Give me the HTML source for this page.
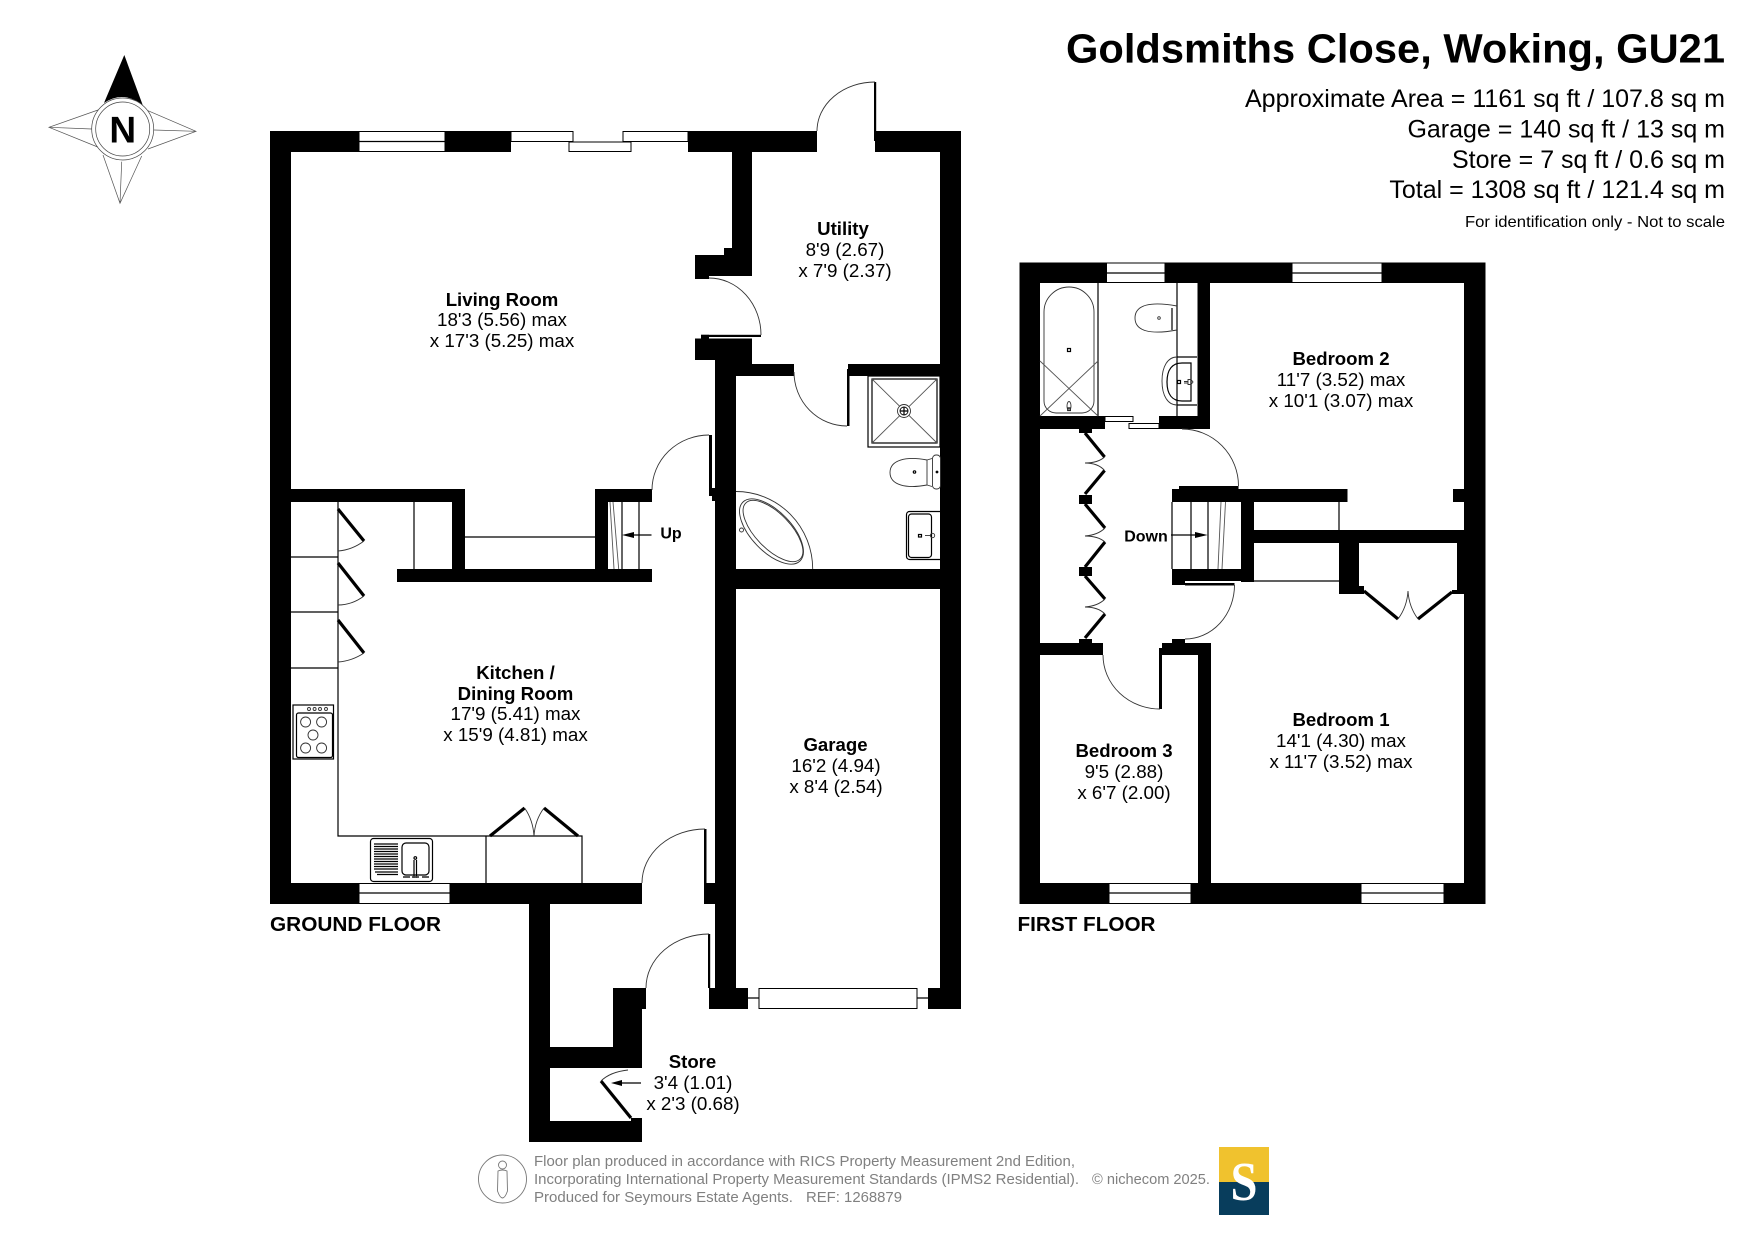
<!DOCTYPE html>
<html><head><meta charset="utf-8"><title>Goldsmiths Close floor plan</title>
<style>
html,body{margin:0;padding:0;background:#fff;width:1755px;height:1241px;overflow:hidden}
svg{display:block}
text{font-family:"Liberation Sans",sans-serif;fill:#000}
.r{font-size:18.8px;text-anchor:middle}
.b{font-weight:bold;font-size:18.6px}
.t{fill:none;stroke:#000;stroke-width:1.2}
.a{fill:none;stroke:#333;stroke-width:.9}
.k{fill:none;stroke:#000;stroke-width:3.2}
.g{fill:none;stroke:#555;stroke-width:.9}
.w{fill:#fff;stroke:#000;stroke-width:1}
.f{font-size:14.4px;fill:#808080}
</style></head><body>
<svg width="1755" height="1241" viewBox="0 0 1755 1241" xmlns="http://www.w3.org/2000/svg">
<rect width="1755" height="1241" fill="#fff"/>

<!-- compass -->
<g>
<path d="M124.3 55L104 103Q123 90 142.700 105Z" fill="#000"/>
<path d="M98 110L49 127.300L97.700 147M49 127.300L91.700 129M148 110.700L196 131.300L148 149M154 130L196 131.300M103 155L120 203.300L141.700 156M121.700 161.700L120 203.300" fill="none" stroke="#555" stroke-width=".7"/>
<circle cx="122.700" cy="129" r="31" fill="none" stroke="#444" stroke-width=".7"/><circle cx="122.700" cy="129" r="27" fill="none" stroke="#444" stroke-width=".7"/>
<text x="122.700" y="142.500" font-size="37" font-weight="bold" text-anchor="middle">N</text>
</g>

<!-- GROUND FLOOR walls -->
<g fill="#000">
<rect x="270" y="131" width="21" height="773"/>
<rect x="270" y="131" width="89" height="21"/>
<rect x="445" y="131" width="66" height="21"/>
<rect x="688" y="131" width="129" height="21"/>
<rect x="875" y="131" width="86" height="21"/>
<rect x="940" y="131" width="21" height="878"/>
<rect x="732" y="152" width="20" height="96"/>
<rect x="724" y="248" width="28" height="7"/>
<rect x="695" y="255" width="57" height="21"/>
<rect x="695" y="276" width="14" height="3"/>
<rect x="701" y="334.800" width="60" height="2.200"/>
<rect x="701" y="334.800" width="8" height="4"/>
<rect x="695" y="338.500" width="57" height="21.500"/>
<rect x="715" y="338.500" width="37" height="25.500"/>
<rect x="715" y="360" width="21" height="649"/>
<rect x="736" y="364" width="58" height="12"/>
<rect x="848" y="364" width="92" height="12"/>
<rect x="847" y="369" width="2.500" height="57"/>
<rect x="709" y="435" width="3" height="61"/>
<rect x="712" y="488" width="3" height="13"/>
<rect x="736" y="569" width="204" height="20"/>
<rect x="291" y="489" width="174" height="13"/>
<rect x="595" y="489" width="57" height="13"/>
<rect x="452" y="502" width="13" height="67"/>
<rect x="595" y="502" width="13" height="67"/>
<rect x="397" y="569" width="255" height="13"/>
<rect x="270" y="883" width="89" height="21"/>
<rect x="450" y="883" width="192" height="21"/>
<rect x="704" y="883" width="11" height="21"/>
<rect x="704" y="829" width="2.500" height="54"/>
<rect x="874" y="82" width="2.200" height="59"/>
<rect x="708" y="934" width="2.200" height="54"/>
<rect x="709" y="988" width="39" height="21"/>
<rect x="928" y="988" width="33" height="21"/>
<!-- store -->
<rect x="529" y="904" width="21" height="238"/>
<rect x="529" y="1047" width="113" height="21"/>
<rect x="529" y="1121" width="113" height="21"/>
<rect x="631" y="1118" width="11" height="4"/>
<rect x="613" y="988" width="33" height="21"/>
<rect x="613" y="1009" width="29" height="59"/>
</g>

<!-- ground windows -->
<rect class="w" x="359" y="131.500" width="86" height="20"/><path class="t" d="M359 141.500H445"/>
<rect class="w" x="511" y="131.500" width="62" height="10"/>
<rect class="w" x="569" y="142" width="62" height="9.500"/>
<rect class="w" x="623" y="131.500" width="65" height="10"/>
<rect class="w" x="359" y="883.500" width="91" height="20"/><path class="t" d="M359 893H450"/>
<rect class="w" x="759" y="988.500" width="158" height="20"/>
<path class="t" d="M748 998H759M917 998H928"/>

<!-- ground door arcs -->
<path class="a" d="M875 82A58 49 0 0 0 817 131"/>
<path class="a" d="M761 335A52 57 0 0 0 709 278"/>
<path class="a" d="M794 372A53 54 0 0 0 847 426"/>
<path class="a" d="M709 435A57 55 0 0 0 652 490"/>
<path class="a" d="M705 829A63 54 0 0 0 642 883"/>
<path class="a" d="M709 934A63 54 0 0 0 646 988"/>

<!-- shower -->
<rect class="t" x="868" y="376" width="72" height="71"/>
<rect class="t" x="872" y="379" width="65" height="64"/>
<path class="g" d="M872 379L937 443M937 379L872 443"/>
<circle cx="904" cy="411" r="6.500" fill="#fff" stroke="#333" stroke-width=".9"/>
<circle cx="904" cy="411" r="4" fill="#fff" stroke="#000" stroke-width=".9"/><path class="t" d="M900 411H908M904 407V415" stroke-width=".9"/>
<!-- toilet -->
<path class="a" d="M927 460C906 456 890 460 890 472.500C890 485 906 489 927 485Z"/>
<path class="a" d="M927 460L932 458.500M927 485L932 486.500"/>
<rect class="a" x="932.500" y="455" width="8" height="34" rx="3.500"/>
<circle cx="914.500" cy="472" r="1.200" class="t"/><circle cx="937" cy="472" r=".8" class="t"/>
<!-- basin -->
<rect class="t" x="906.500" y="511.500" width="40" height="48" rx="3"/>
<rect class="t" x="908.500" y="514" width="23" height="43.500" rx="3"/>
<rect class="t" x="918.500" y="534.500" width="3" height="2.500"/>
<path class="a" d="M925 535.500h6"/><circle cx="932.500" cy="535.500" r="2.200" class="a"/>
<rect x="940" y="505" width="21" height="60" fill="#000"/>
<!-- corner bath -->
<path class="a" d="M736 491.500A76.700 77.500 0 0 1 812.700 569"/>
<ellipse cx="771.500" cy="531.500" rx="41" ry="20" transform="rotate(46 771.500 531.500)" class="a"/>
<ellipse cx="773" cy="531" rx="39" ry="17.500" transform="rotate(46 773 531)" class="a"/>
<circle cx="741.500" cy="530" r="2" class="a"/>

<!-- ground stair / alcove lines -->
<path class="t" d="M465 537H595M414 502V569M622 502V569M639 502V569"/>
<path class="g" d="M610 502L614 569M613 502L618.700 569"/>
<path class="t" d="M651.500 535H630"/><path d="M622 535L634 532V538Z" fill="#000"/>

<!-- kitchen -->
<path class="t" d="M338 502V836H582V883M486 836V883M291 557H338M291 612H338M291 668H338"/>
<path class="k" d="M338 509L364 541M338 563L364 596M338 620L364 653"/>
<path class="a" d="M364 541Q352 550 338 551M364 596Q352 605 338 605M364 653Q352 661 338 662"/>
<path class="k" d="M490 836L524.600 808M578 836L544 808"/>
<path class="a" d="M524.600 808Q533 820 534 836M544 808Q535 820 534 836"/>
<!-- oven -->
<rect class="t" x="293" y="705" width="40.500" height="54"/>
<rect class="t" x="296.500" y="713" width="36" height="44.500" rx="2"/>
<g class="a" stroke-width=".9"><circle cx="309" cy="709" r="1.500"/><circle cx="314.600" cy="709" r="1.500"/><circle cx="320" cy="709" r="1.500"/><circle cx="326" cy="709" r="1.500"/>
<circle cx="305.600" cy="722" r="5"/><circle cx="321.600" cy="722" r="5"/><circle cx="313" cy="735" r="5"/><circle cx="305.600" cy="748" r="5"/><circle cx="321.600" cy="748" r="5"/></g>
<!-- sink -->
<rect class="t" x="370.500" y="838.500" width="62" height="43" rx="3"/>
<rect class="t" x="402" y="843" width="27" height="32" rx="4"/>
<path d="M374 844H398M374 846.500H398M374 849H398M374 851.500H398M374 854H398M374 856.500H398M374 859H398M374 861.500H398M374 864H398M374 866.500H398M374 869H398M375 872H398M377 874.500H398" stroke="#000" stroke-width="1.300"/>
<path class="t" d="M414 860V878M416.500 860V878"/>
<circle cx="415.300" cy="858" r="1.300" class="t"/>
<path d="M403 877H410M412 877H419M422 877H429" stroke="#444" stroke-width="1.800"/>

<!-- store door -->
<path d="M631 1118L601 1081" stroke="#000" stroke-width="3.200" fill="none"/>
<path class="a" d="M601 1081Q610 1072 628 1070"/>
<path class="t" d="M641 1083H618"/><path d="M611 1083L622 1080V1086Z" fill="#000"/>

<!-- FIRST FLOOR walls -->
<g fill="#000">
<rect x="1019.500" y="262.500" width="20.500" height="641.500"/>
<rect x="1019.500" y="262.500" width="87" height="20.500"/>
<rect x="1165" y="262.500" width="127" height="20.500"/>
<rect x="1382" y="262.500" width="103.500" height="20.500"/>
<rect x="1464" y="262.500" width="21.500" height="641.500"/>
<rect x="1197.500" y="283" width="12.500" height="146"/>
<rect x="1040" y="416" width="65" height="13"/>
<rect x="1159" y="416" width="51" height="13"/>
<rect x="1172" y="489" width="175.500" height="13"/>
<rect x="1179" y="486" width="59.500" height="5"/>
<rect x="1241" y="489" width="13" height="93"/>
<rect x="1172" y="569" width="82" height="12"/>
<rect x="1172" y="581" width="13" height="4"/>
<rect x="1185" y="583" width="49.500" height="2.500"/>
<rect x="1254" y="530" width="210" height="13"/>
<rect x="1339" y="543" width="20" height="51"/>
<rect x="1359" y="586" width="5" height="8"/>
<rect x="1457" y="543" width="7" height="51"/>
<rect x="1452" y="590" width="6" height="4"/>
<rect x="1453" y="489" width="11" height="13"/>
<rect x="1040" y="643" width="63" height="12"/>
<rect x="1162" y="643" width="49" height="12"/>
<rect x="1198" y="643" width="13" height="261"/>
<rect x="1159" y="648" width="3" height="61"/>
<rect x="1172" y="639" width="13" height="4"/>
<rect x="1079" y="429" width="13" height="4"/>
<rect x="1079" y="495" width="13" height="9"/>
<rect x="1079" y="567" width="13" height="9"/>
<rect x="1079" y="639" width="13" height="4"/>
<rect x="1019.500" y="883" width="89.500" height="21"/>
<rect x="1191" y="883" width="170" height="21"/>
<rect x="1444" y="883" width="41.500" height="21"/>
</g>
<!-- first windows -->
<rect class="w" x="1106.500" y="263" width="58.500" height="19.500"/><path class="t" d="M1106.500 273H1165"/>
<rect class="w" x="1292" y="263" width="90" height="19.500"/><path class="t" d="M1292 273H1382"/>
<rect class="w" x="1109" y="883.500" width="82" height="20"/><path class="t" d="M1109 893H1191"/>
<rect class="w" x="1361" y="883.500" width="83" height="20"/><path class="t" d="M1361 893H1444"/>
<rect class="w" x="1105" y="416.500" width="28" height="5"/>
<rect class="w" x="1129" y="423.500" width="30" height="5"/>

<!-- first bathroom -->
<path class="t" d="M1098 283V416M1177 283V416M1177 357H1197M1177 405H1197"/>
<path class="a" d="M1044 312A25 25 0 0 1 1094 312V401A12 12 0 0 1 1082 413H1056A12 12 0 0 1 1044 401Z" stroke="#222"/>
<path class="g" d="M1040 361L1098 416M1098 361L1040 416"/>
<rect class="t" x="1067.500" y="348.500" width="3" height="3"/>
<rect class="t" x="1067.800" y="408" width="2.500" height="2.500"/>
<ellipse cx="1069" cy="406" rx="2" ry="4.500" class="a"/>
<path class="a" d="M1177 306C1150 301 1135 305 1135 318C1135 331 1150 335 1177 330"/>
<path class="t" d="M1172 308V330" stroke-width="1"/>
<circle cx="1159" cy="318" r="1.300" class="a"/>
<path class="a" d="M1177 357C1168 357 1162 366 1162 381C1162 396 1168 405 1177 405"/>
<path class="t" d="M1191 363H1182C1172 363 1167 370 1167 382C1167 394 1172 401 1182 401H1191Z" stroke-width="1"/>
<rect class="t" x="1177.500" y="380.500" width="3" height="3"/>
<path class="a" d="M1184 381.500h4M1184 383h4"/><path class="a" d="M1188 379.500h3l2 2.500-2 2.500h-3z"/>

<!-- bedroom doors -->
<path class="a" d="M1182 429A56.500 57 0 0 1 1238.500 486"/>
<path class="a" d="M1234.500 585A49.500 54 0 0 1 1185 639"/>
<path class="a" d="M1103 655A57 54 0 0 0 1160 709"/>

<!-- bi-fold wardrobes -->
<path class="k" d="M1085 433L1104.600 457M1104.600 470.500L1085 494M1085 504L1105 528M1105 542L1085 567M1085 576L1105 599M1105 614L1085 638" fill="none"/>
<path class="a" d="M1104.600 457Q1098 463 1085 463Q1098 463 1104.600 470.500M1105 528Q1098 535 1085 536Q1098 536 1105 542M1105 599Q1098 606 1085 607Q1098 607 1105 614"/>

<!-- first floor stairs -->
<path class="t" d="M1191 502V569M1208 502V569M1172 502V569"/>
<path class="g" d="M1221 502L1218 569M1225.500 502L1222 569"/>
<path class="t" d="M1171 535H1196"/><path d="M1207.600 535L1195 532V538Z" fill="#000"/>
<path class="t" d="M1339 502V530M1254 581H1339"/>

<!-- closet doors -->
<path class="k" d="M1364 591L1398 619M1452 592L1418 619"/>
<path class="a" d="M1398 619Q1407 607 1408 591M1418 619Q1409 607 1408 591"/>

<!-- footer -->
<ellipse cx="502.500" cy="1179" rx="24" ry="24" fill="none" stroke="#777" stroke-width=".9"/>
<circle cx="502.500" cy="1165" r="4" fill="none" stroke="#777" stroke-width=".9"/>
<path d="M498 1171Q502.500 1169 507 1171L507.500 1191Q505 1198 502.500 1198Q500 1198 497.500 1191Z" fill="none" stroke="#777" stroke-width=".9"/>
<text class="f" x="534" y="1166" textLength="541" lengthAdjust="spacingAndGlyphs">Floor plan produced in accordance with RICS Property Measurement 2nd Edition,</text>
<text class="f" x="534" y="1184" textLength="545" lengthAdjust="spacingAndGlyphs">Incorporating International Property Measurement Standards (IPMS2 Residential).</text>
<text class="f" x="534" y="1202" textLength="259" lengthAdjust="spacingAndGlyphs">Produced for Seymours Estate Agents.</text>
<text class="f" x="806" y="1202" textLength="96" lengthAdjust="spacingAndGlyphs">REF: 1268879</text>
<text class="f" x="1092" y="1184" textLength="118" lengthAdjust="spacingAndGlyphs">© nichecom 2025.</text>
<rect x="1219" y="1147" width="50" height="35" fill="#f0c22e"/>
<rect x="1219" y="1182" width="50" height="33" fill="#083d5c"/>
<text x="1244" y="1200" font-size="55" font-weight="bold" text-anchor="middle" style="font-family:'Liberation Serif',serif;fill:#fff" textLength="27" lengthAdjust="spacingAndGlyphs">S</text>

<!-- header text -->
<text x="1725" y="62.500" font-size="41" font-weight="bold" text-anchor="end" textLength="659" lengthAdjust="spacingAndGlyphs">Goldsmiths Close, Woking, GU21</text>
<g font-size="25" text-anchor="end">
<text x="1725" y="107" textLength="480" lengthAdjust="spacingAndGlyphs">Approximate Area = 1161 sq ft / 107.8 sq m</text>
<text x="1725" y="137.500">Garage = 140 sq ft / 13 sq m</text>
<text x="1725" y="168">Store = 7 sq ft / 0.6 sq m</text>
<text x="1725" y="198">Total = 1308 sq ft / 121.4 sq m</text>
</g>
<text x="1725" y="227" font-size="16" text-anchor="end" textLength="260" lengthAdjust="spacingAndGlyphs">For identification only - Not to scale</text>

<!-- floor labels -->
<text x="270" y="931" font-size="20.500" font-weight="bold" textLength="171" lengthAdjust="spacingAndGlyphs">GROUND FLOOR</text>
<text x="1017.500" y="931" font-size="20.500" font-weight="bold" textLength="138" lengthAdjust="spacingAndGlyphs">FIRST FLOOR</text>

<!-- rooms -->
<g>
<text class="r b" x="502" y="306">Living Room</text><text class="r" x="502" y="326">18'3 (5.56) max</text><text class="r" x="502" y="347">x 17'3 (5.25) max</text>
<text class="r b" x="843" y="235">Utility</text><text class="r" x="845" y="256">8'9 (2.67)</text><text class="r" x="845" y="277">x 7'9 (2.37)</text>
<text class="r b" x="515.500" y="679">Kitchen /</text><text class="r b" x="515.500" y="700">Dining Room</text><text class="r" x="515.500" y="720">17'9 (5.41) max</text><text class="r" x="515.500" y="741">x 15'9 (4.81) max</text>
<text class="r b" x="835.500" y="751">Garage</text><text class="r" x="836" y="772">16'2 (4.94)</text><text class="r" x="836" y="793">x 8'4 (2.54)</text>
<text class="r b" x="692.500" y="1068">Store</text><text class="r" x="693" y="1089">3'4 (1.01)</text><text class="r" x="693" y="1110">x 2'3 (0.68)</text>
<text x="671" y="538.500" font-size="16" font-weight="bold" text-anchor="middle">Up</text>
<text x="1146" y="541.500" font-size="16" font-weight="bold" text-anchor="middle">Down</text>
<text class="r b" x="1341" y="365">Bedroom 2</text><text class="r" x="1341" y="386">11'7 (3.52) max</text><text class="r" x="1341" y="407">x 10'1 (3.07) max</text>
<text class="r b" x="1341" y="726">Bedroom 1</text><text class="r" x="1341" y="747">14'1 (4.30) max</text><text class="r" x="1341" y="768">x 11'7 (3.52) max</text>
<text class="r b" x="1124" y="757">Bedroom 3</text><text class="r" x="1124" y="778">9'5 (2.88)</text><text class="r" x="1124" y="799">x 6'7 (2.00)</text>
</g>
</svg>
</body></html>
